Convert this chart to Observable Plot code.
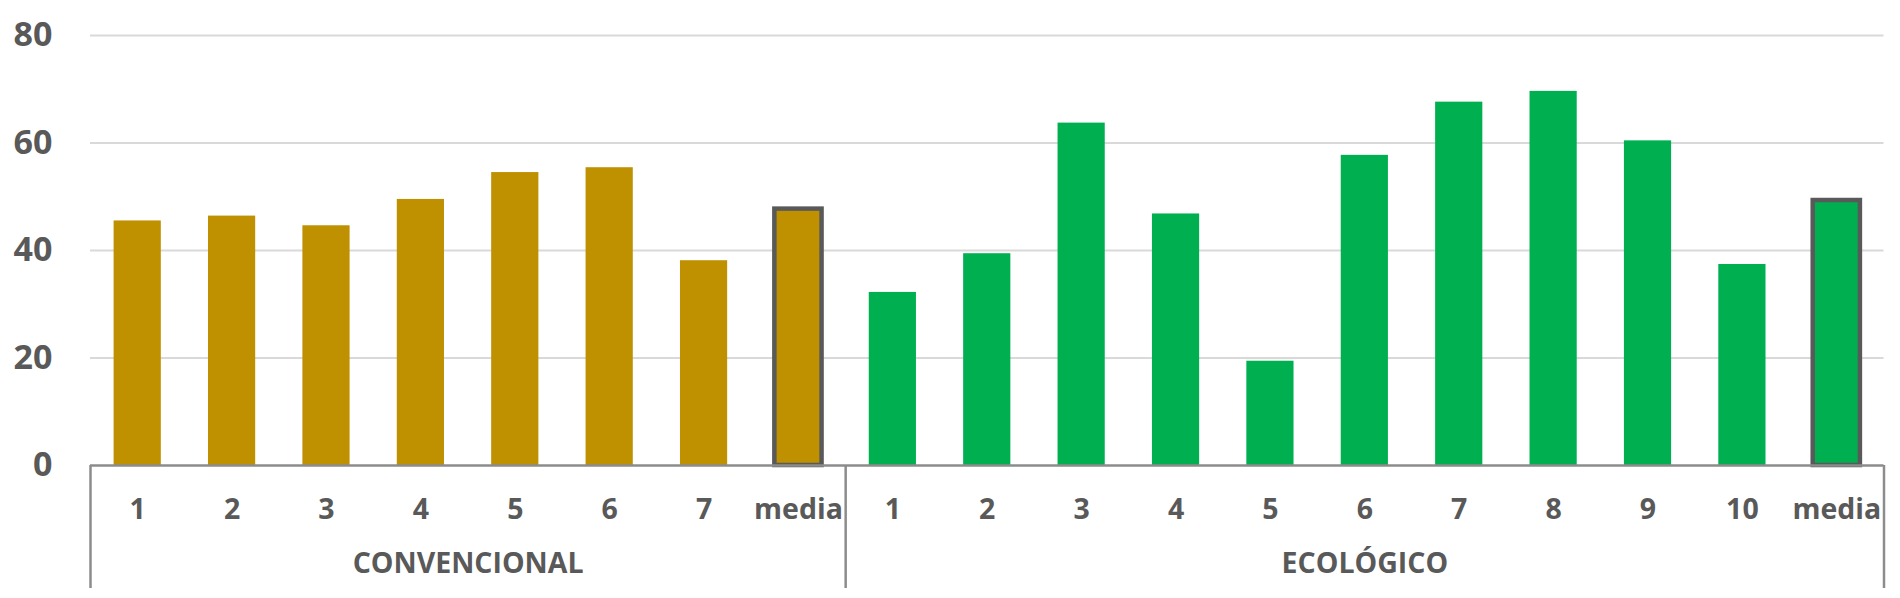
<!DOCTYPE html>
<html>
<head>
<meta charset="utf-8">
<script src="https://cdn.jsdelivr.net/npm/d3@7"></script>
<script src="https://cdn.jsdelivr.net/npm/@observablehq/plot@0.6"></script>
<style>
  html, body { margin: 0; padding: 0; background: #fff; }
  #chart { width: 1900px; height: 598px; }
</style>
</head>
<body>
<div id="chart"></div>
<script>
const groups = ["CONVENCIONAL", "ECOLÓGICO"];
const convLabels = ["1", "2", "3", "4", "5", "6", "7", "media"];
const convValues = [45.5, 46.4, 44.6, 49.5, 54.5, 55.4, 38.1, 47.7];
const ecoLabels = ["1", "2", "3", "4", "5", "6", "7", "8", "9", "10", "media"];
const ecoValues = [32.2, 39.4, 63.7, 46.8, 19.4, 57.7, 67.6, 69.6, 60.4, 37.4, 49.3];
const yTicks = [0, 20, 40, 60, 80];
const colors = {CONVENCIONAL: "#BF9000", "ECOLÓGICO": "#00B050"};

const data = [
  ...convLabels.map((l, i) => ({key: "C" + l, label: l, group: groups[0], value: convValues[i]})),
  ...ecoLabels.map((l, i) => ({key: "E" + l, label: l, group: groups[1], value: ecoValues[i]}))
];
const keys = data.map(d => d.key);
const labelOf = new Map(data.map(d => [d.key, d.label]));

const W = 1900, H = 598;
const mL = 90, mR = 16.5, mT = 35, mB = 133;
const step = (W - mL - mR) / keys.length;
const textColor = "#595959";
const axisColor = "#8c8c8c";
const font = "'Open Sans', 'Noto Sans', sans-serif";

const firstOfGroup = [data.find(d => d.group === groups[0]).key, data.find(d => d.group === groups[1]).key];
const lastKey = keys[keys.length - 1];
const convMid = data.filter(d => d.group === groups[0]);
const ecoMid = data.filter(d => d.group === groups[1]);

const plot = Plot.plot({
  width: W,
  height: H,
  marginLeft: mL,
  marginRight: mR,
  marginTop: mT,
  marginBottom: mB,
  style: {fontFamily: font, background: "#fff", overflow: "visible"},
  x: {domain: keys, paddingInner: 0.5, paddingOuter: 0.25, round: false, axis: null},
  y: {domain: [0, 80], axis: null},
  marks: [
    Plot.gridY(yTicks.filter(t => t > 0), {stroke: "#d9d9d9", strokeOpacity: 1, strokeWidth: 2}),
    Plot.barY(data.filter(d => d.label !== "media"), {x: "key", y: "value", fill: d => colors[d.group]}),
    Plot.barY(data.filter(d => d.label === "media"), {x: "key", y: "value", fill: d => colors[d.group], stroke: textColor, strokeWidth: 4.5}),
    Plot.ruleY([0], {stroke: axisColor, strokeWidth: 2.5}),
    // vertical separators below the baseline
    Plot.ruleX(firstOfGroup, {x: d => d, dx: -step / 2, stroke: axisColor, strokeWidth: 2.5, insetTop: H - mT - mB, insetBottom: -123}),
    Plot.ruleX([lastKey], {x: d => d, dx: step / 2, stroke: axisColor, strokeWidth: 2.5, insetTop: H - mT - mB, insetBottom: -123}),
    Plot.axisY(yTicks, {tickSize: 0, tickPadding: 38, fontSize: 34, fontWeight: 700, fill: textColor, anchor: "left", label: null}),
    Plot.axisX({tickSize: 0, tickPadding: 33, fontSize: 28.5, fontWeight: 700, fill: textColor, tickFormat: k => labelOf.get(k), label: null}),
    Plot.text([groups[0]], {x: () => convMid[3].key, dx: step / 2, frameAnchor: "bottom", dy: 107, text: d => d, fontSize: 28.5, fontWeight: 700, fill: textColor}),
    Plot.text([groups[1]], {x: () => ecoMid[5].key, frameAnchor: "bottom", dy: 107, text: d => d, fontSize: 28.5, fontWeight: 700, fill: textColor})
  ]
});
document.getElementById("chart").appendChild(plot);
</script>
</body>
</html>
